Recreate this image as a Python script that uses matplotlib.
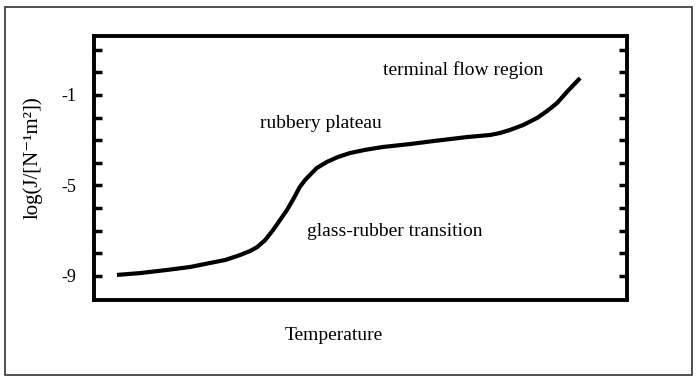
import matplotlib.pyplot as plt
from matplotlib.patches import Rectangle

# curve (x in arbitrary temperature units 0-100)
temp = [4.3, 8.6, 13.7, 18.0, 21.8, 24.6, 27.4, 29.3, 30.6, 32.1, 33.6, 34.9,
        36.2, 37.5, 38.6, 39.6, 40.5, 41.8, 43.7, 45.8, 48.0, 50.8, 54.2,
        59.3, 63.6, 66.8, 70.0, 74.3, 76.2, 78.0, 80.5, 83.1, 85.0, 86.9,
        88.9, 91.2]
logJ = [-8.96, -8.88, -8.74, -8.61, -8.43, -8.30, -8.08, -7.90, -7.73, -7.42,
        -6.97, -6.53, -6.09, -5.56, -5.07, -4.76, -4.54, -4.23, -3.96, -3.74,
        -3.57, -3.43, -3.30, -3.17, -3.04, -2.95, -2.86, -2.77, -2.68, -2.55,
        -2.33, -2.02, -1.71, -1.35, -0.82, -0.25]

tick_vals = [-9, -8, -7, -6, -5, -4, -3, -2, -1, 0, 1]
tick_labels = ['-9', '', '', '', '-5', '', '', '', '-1', '', '']

plt.rcParams['font.family'] = ['Liberation Serif', 'DejaVu Serif']

fig = plt.figure(figsize=(6.97, 3.78), dpi=100)
ax = fig.add_axes([0.1349, 0.2063, 0.7647, 0.6985])

ax.plot(temp, logJ, color='black', lw=3, solid_capstyle='butt',
        solid_joinstyle='round')

ax.set_xlim(0, 100)
ax.set_ylim(-10.07, 1.61)
ax.set_xticks([])
ax.set_yticks(tick_vals)
ax.set_yticklabels(tick_labels)
ax.tick_params(axis='y', direction='in', length=6, width=2.5, left=True,
               right=True, labelsize=13, pad=13)
for s in ax.spines.values():
    s.set_linewidth(2.8)

ax.text(54.2, 0.11, 'terminal flow region', fontsize=14, va='center')
ax.text(31.1, -2.24, 'rubbery plateau', fontsize=14, va='center')
ax.text(40.0, -7.02, 'glass-rubber transition', fontsize=14, va='center')

fig.text(334 / 697, 1 - 336 / 378, 'Temperature', fontsize=14,
         ha='center', va='center')
fig.text(33 / 697, 1 - 158 / 378, 'log(J/[N\u207b\u00b9m\u00b2])', fontsize=15,
         rotation=90, ha='center', va='center')

# outer frame
fig.patches.append(Rectangle((5 / 697, 3 / 378), 687 / 697, 368 / 378,
                             transform=fig.transFigure, fill=False,
                             edgecolor='#333333', lw=1.2))

fig.savefig('out.png', dpi=100)
